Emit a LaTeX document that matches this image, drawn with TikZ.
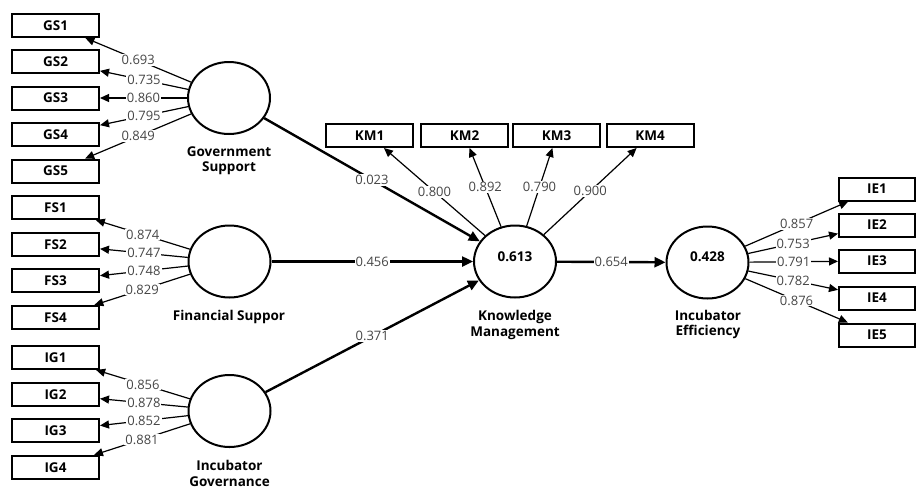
\documentclass[tikz,border=0pt]{standalone}
\usepackage{fontspec}
\setmainfont{Open Sans}
\usetikzlibrary{arrows.meta,shapes.geometric,calc}
\definecolor{lbl}{RGB}{70,70,70}
\begin{document}
\begin{tikzpicture}[x=1pt,y=-1pt,
 ind/.style={draw,line width=2pt,minimum width=87pt,minimum height=23pt,inner sep=0pt,font=\fontsize{13.5}{15}\selectfont\bfseries},
 iebox/.style={ind,minimum width=76pt},
 lat/.style={ellipse,draw,line width=2pt,minimum width=82pt,minimum height=72pt,inner sep=0pt},
 rsq/.style={font=\fontsize{13.5}{15}\selectfont\bfseries},
 latname/.style={align=center,font=\fontsize{13.5}{15.5}\selectfont\bfseries},
 load/.style={line width=1.2pt,-{Triangle[length=9pt,width=8pt]}},
 struct/.style={line width=2.4pt,-{Triangle[length=11pt,width=10pt]}},
 val/.style={fill=white,inner sep=1pt,text=lbl,font=\fontsize{13}{15}\selectfont}]
\useasboundingbox (0,0) rectangle (917,488);

% indicator boxes
\node[ind] (gs1) at (55.5,25.5) {GS1};
\node[ind] (gs2) at (55.5,61.5) {GS2};
\node[ind] (gs3) at (55.5,98) {GS3};
\node[ind] (gs4) at (55.5,134.5) {GS4};
\node[ind] (gs5) at (55.5,171) {GS5};
\node[ind] (fs1) at (55.5,207.5) {FS1};
\node[ind] (fs2) at (55.5,244.5) {FS2};
\node[ind] (fs3) at (55.5,280.5) {FS3};
\node[ind] (fs4) at (55.5,317.5) {FS4};
\node[ind] (ig1) at (55.5,357.5) {IG1};
\node[ind] (ig2) at (55.5,394.5) {IG2};
\node[ind] (ig3) at (55.5,430.5) {IG3};
\node[ind] (ig4) at (55.5,467.5) {IG4};
\node[ind] (km1) at (369.5,135.5) {KM1};
\node[ind] (km2) at (464.5,135.5) {KM2};
\node[ind] (km3) at (556.5,135.5) {KM3};
\node[ind] (km4) at (650,135.5) {KM4};
\node[iebox] (ie1) at (877,189) {IE1};
\node[iebox] (ie2) at (877,225) {IE2};
\node[iebox] (ie3) at (877,261) {IE3};
\node[iebox] (ie4) at (877,298) {IE4};
\node[iebox] (ie5) at (877,335) {IE5};

% latent variables
\node[lat] (gs) at (229,98) {};
\node[lat] (fs) at (229.5,261.5) {};
\node[lat] (ig) at (229.5,411) {};
\node[lat] (km) at (515,261.5) {};
\node[lat] (ie) at (707.5,262.5) {};
\node[rsq] (kmr) at (515,257) {0.613};
\node[rsq] (ier) at (707.5,257) {0.428};

\node[latname] (gsn) at (229,160.5) {Government\\Support};
\node[latname] (fsn) at (229,317) {Financial Suppor};
\node[latname] (ign) at (229.5,473.5) {Incubator\\Governance};
\node[latname] (kmn) at (515,325) {Knowledge\\Management};
\node[latname] (ien) at (708,324.5) {Incubator\\Efficiency};

% outer loadings
\draw[load] (gs) -- node[val]{0.693} (gs1);
\draw[load] (gs) -- node[val]{0.735} (gs2);
\draw[load] (gs) -- node[val]{0.860} (gs3);
\draw[load] (gs) -- node[val]{0.795} (gs4);
\draw[load] (gs) -- node[val]{0.849} (gs5);
\draw[load] (fs) -- node[val]{0.874} (fs1);
\draw[load] (fs) -- node[val]{0.747} (fs2);
\draw[load] (fs) -- node[val]{0.748} (fs3);
\draw[load] (fs) -- node[val]{0.829} (fs4);
\draw[load] (ig) -- node[val]{0.856} (ig1);
\draw[load] (ig) -- node[val]{0.878} (ig2);
\draw[load] (ig) -- node[val]{0.852} (ig3);
\draw[load] (ig) -- node[val]{0.881} (ig4);
\draw[load] (km) -- node[val]{0.800} (km1);
\draw[load] (km) -- node[val]{0.892} (km2);
\draw[load] (km) -- node[val]{0.790} (km3);
\draw[load] (km) -- node[val]{0.900} (km4);
\draw[load] (ie) -- node[val]{0.857} (ie1);
\draw[load] (ie) -- node[val]{0.753} (ie2);
\draw[load] (ie) -- node[val]{0.791} (ie3);
\draw[load] (ie) -- node[val]{0.782} (ie4);
\draw[load] (ie) -- node[val]{0.876} (ie5);

% structural paths
\draw[struct] (gs) -- node[val]{0.023} (km);
\draw[struct] (fs) -- node[val]{0.456} (km);
\draw[struct] (ig) -- node[val]{0.371} (km);
\draw[struct] (km) -- node[val]{0.654} (ie);
\end{tikzpicture}
\end{document}
